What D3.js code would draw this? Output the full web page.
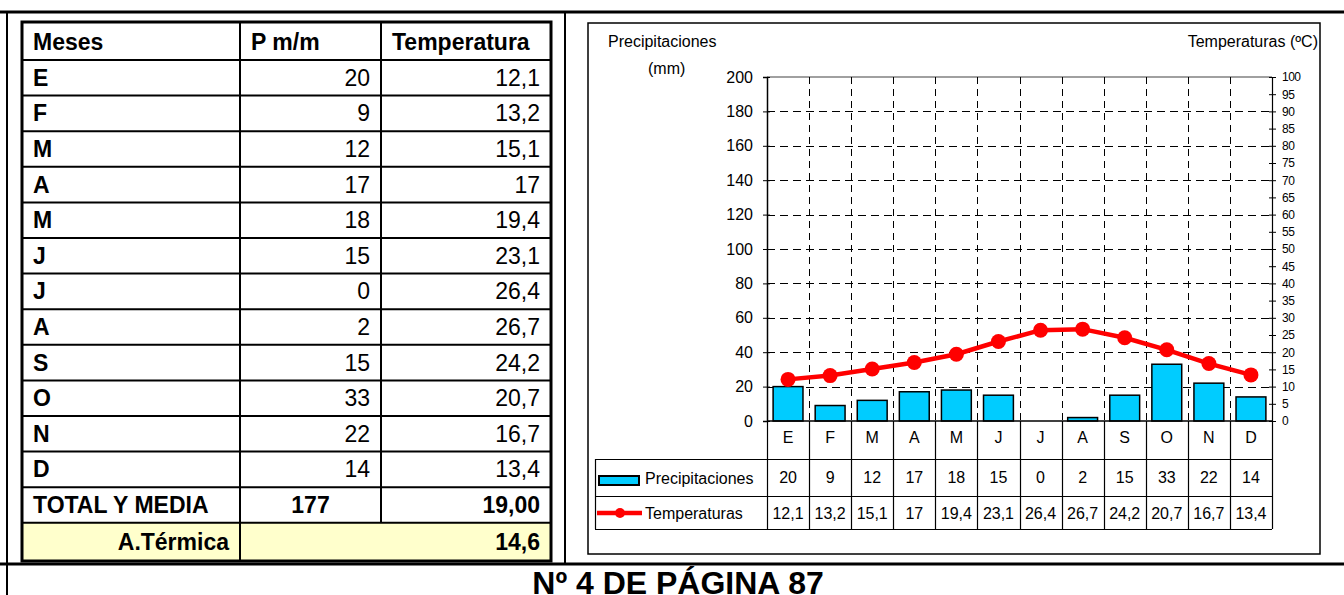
<!DOCTYPE html>
<html>
<head>
<meta charset="utf-8">
<script src="https://cdn.jsdelivr.net/npm/d3@7"></script>
<style>
  body { margin: 0; background: #fff; }
  svg { display: block; font-family: "Liberation Sans", Arial, sans-serif; }
</style>
</head>
<body>
<div id="chart"></div>
<script>
// data
var meses = ["E", "F", "M", "A", "M", "J", "J", "A", "S", "O", "N", "D"];
var precip = [20, 9, 12, 17, 18, 15, 0, 2, 15, 33, 22, 14];
var temp = [12.1, 13.2, 15.1, 17, 19.4, 23.1, 26.4, 26.7, 24.2, 20.7, 16.7, 13.4];
var precipTicks = [0, 20, 40, 60, 80, 100, 120, 140, 160, 180, 200];
var tempTicks = [0, 5, 10, 15, 20, 25, 30, 35, 40, 45, 50, 55, 60, 65, 70, 75, 80, 85, 90, 95, 100];
var headers = ["Meses", "P m/m", "Temperatura"];

var coma = function(v) { return String(v).replace(".", ","); };
var total = d3.sum(precip);
var media = d3.mean(temp).toFixed(2).replace(".", ",");
var amplitud = coma(+(d3.max(temp) - d3.min(temp)).toFixed(1));

var svg = d3.select("#chart").append("svg")
  .attr("width", 1344)
  .attr("height", 595);

// page frame
function line(x1, y1, x2, y2, w, col) {
  return svg.append("line")
    .attr("x1", x1).attr("y1", y1).attr("x2", x2).attr("y2", y2)
    .attr("stroke", col || "#000").attr("stroke-width", w);
}
line(0, 12, 1344, 12, 3);
line(7, 12, 7, 595, 2);
line(565, 12, 565, 564, 2);
line(0, 564, 1344, 564, 3);

svg.append("text")
  .attr("x", 678).attr("y", 594)
  .attr("text-anchor", "middle")
  .style("font-size", "32px").style("font-weight", "bold")
  .text("Nº 4 DE PÁGINA 87");

// ---------- left table ----------
var cols = [22, 240, 381, 551];
var tTop = 22, headH = 38, rowH = 35.6;
var rowsY = [tTop, tTop + headH];
for (var i = 1; i <= 13; i++) rowsY.push(tTop + headH + i * rowH);
rowsY.push(561);

var tabla = svg.append("g");

tabla.append("rect")
  .attr("x", cols[0]).attr("y", rowsY[14])
  .attr("width", cols[3] - cols[0]).attr("height", rowsY[15] - rowsY[14])
  .attr("fill", "#ffffcc");

tabla.selectAll(".hl")
  .data(rowsY.slice(1, 15))
  .enter().append("line")
  .attr("x1", cols[0]).attr("x2", cols[3])
  .attr("y1", function(d) { return d; }).attr("y2", function(d) { return d; })
  .attr("stroke", "#000").attr("stroke-width", 2);

tabla.append("line").attr("x1", cols[1]).attr("x2", cols[1])
  .attr("y1", tTop).attr("y2", rowsY[15]).attr("stroke", "#000").attr("stroke-width", 2);
tabla.append("line").attr("x1", cols[2]).attr("x2", cols[2])
  .attr("y1", tTop).attr("y2", rowsY[14]).attr("stroke", "#000").attr("stroke-width", 2);

tabla.append("rect")
  .attr("x", cols[0]).attr("y", tTop)
  .attr("width", cols[3] - cols[0]).attr("height", rowsY[15] - tTop)
  .attr("fill", "none").attr("stroke", "#000").attr("stroke-width", 3);

var fs = "23px";
tabla.selectAll(".head")
  .data(headers)
  .enter().append("text")
  .attr("x", function(d, i) { return cols[i] + 11; })
  .attr("y", (rowsY[0] + rowsY[1]) / 2 + 8.5)
  .style("font-size", fs).style("font-weight", "bold")
  .text(function(d) { return d; });

var filas = meses.map(function(m, i) { return [m, precip[i], coma(temp[i])]; });
filas.push(["TOTAL Y MEDIA", total, media]);

var fila = tabla.selectAll(".fila")
  .data(filas)
  .enter().append("g")
  .attr("transform", function(d, i) { return "translate(0," + ((rowsY[i + 1] + rowsY[i + 2]) / 2 + 8) + ")"; });

fila.append("text")
  .attr("x", cols[0] + 11)
  .style("font-size", fs).style("font-weight", "bold")
  .text(function(d) { return d[0]; });
fila.append("text")
  .attr("x", function(d, i) { return i == 12 ? (cols[1] + cols[2]) / 2 : cols[2] - 11; })
  .attr("text-anchor", function(d, i) { return i == 12 ? "middle" : "end"; })
  .style("font-size", fs)
  .style("font-weight", function(d, i) { return i == 12 ? "bold" : "normal"; })
  .text(function(d) { return d[1]; });
fila.append("text")
  .attr("x", cols[3] - 11)
  .attr("text-anchor", "end")
  .style("font-size", fs)
  .style("font-weight", function(d, i) { return i == 12 ? "bold" : "normal"; })
  .text(function(d) { return d[2]; });

var yA = (rowsY[14] + rowsY[15]) / 2 + 8;
tabla.append("text").attr("x", cols[1] - 11).attr("y", yA)
  .attr("text-anchor", "end").style("font-size", fs).style("font-weight", "bold")
  .text("A.Térmica");
tabla.append("text").attr("x", cols[3] - 11).attr("y", yA)
  .attr("text-anchor", "end").style("font-size", fs).style("font-weight", "bold")
  .text(amplitud);

// ---------- climograma ----------
var plot = {left: 767, right: 1272, top: 77, bottom: 421};
var legendLeft = 595, rowA = 459, rowB = 496, rowC = 529;

svg.append("rect")
  .attr("x", 588).attr("y", 23).attr("width", 732).attr("height", 531)
  .attr("fill", "none").attr("stroke", "#000").attr("stroke-width", 1.5);

var chartFont = "16px";
svg.append("text").attr("x", 608).attr("y", 47).style("font-size", chartFont).text("Precipitaciones");
svg.append("text").attr("x", 648).attr("y", 74).style("font-size", chartFont).text("(mm)");
svg.append("text").attr("x", 1318).attr("y", 47).attr("text-anchor", "end")
  .style("font-size", chartFont).text("Temperaturas (ºC)");

var xCol = d3.scaleBand().domain(d3.range(12)).range([plot.left, plot.right]);
var x = d3.scaleBand().domain(d3.range(12)).range([plot.left, plot.right])
  .paddingInner(0.29).paddingOuter(0.145);
var y = d3.scaleLinear().domain([0, 200]).range([plot.bottom, plot.top]);
var yT = d3.scaleLinear().domain([0, 100]).range([plot.bottom, plot.top]);

// grid
svg.selectAll(".gh")
  .data(precipTicks.filter(function(d) { return d > 0 && d < 200; }))
  .enter().append("line")
  .attr("x1", plot.left).attr("x2", plot.right)
  .attr("y1", function(d) { return Math.round(y(d)) + 0.5; })
  .attr("y2", function(d) { return Math.round(y(d)) + 0.5; })
  .attr("stroke", "#000").attr("stroke-width", 1).attr("stroke-dasharray", "8,5");
svg.append("line")
  .attr("x1", plot.left).attr("x2", plot.right)
  .attr("y1", y(200)).attr("y2", y(200))
  .attr("stroke", "#808080").attr("stroke-width", 1.5);

var bounds = d3.range(1, 12).map(function(i) { return xCol(i); });
svg.selectAll(".gv")
  .data(bounds)
  .enter().append("line")
  .attr("x1", function(d) { return Math.round(d) + 0.5; })
  .attr("x2", function(d) { return Math.round(d) + 0.5; })
  .attr("y1", plot.top).attr("y2", plot.bottom)
  .attr("stroke", "#000").attr("stroke-width", 1).attr("stroke-dasharray", "7,5");

// data table under the chart
svg.selectAll(".tv")
  .data(bounds.concat([plot.left, plot.right]))
  .enter().append("line")
  .attr("x1", function(d) { return Math.round(d) + 0.5; })
  .attr("x2", function(d) { return Math.round(d) + 0.5; })
  .attr("y1", plot.bottom).attr("y2", rowC)
  .attr("stroke", "#000").attr("stroke-width", 1.2);
svg.selectAll(".th")
  .data([rowA, rowB, rowC])
  .enter().append("line")
  .attr("x1", legendLeft).attr("x2", plot.right)
  .attr("y1", function(d) { return d + 0.5; }).attr("y2", function(d) { return d + 0.5; })
  .attr("stroke", "#000").attr("stroke-width", 1.2);
line(legendLeft + 0.5, rowA, legendLeft + 0.5, rowC, 1.2);

svg.selectAll(".mes")
  .data(meses)
  .enter().append("text")
  .attr("x", function(d, i) { return xCol(i) + xCol.bandwidth() / 2; })
  .attr("y", 443)
  .attr("text-anchor", "middle").style("font-size", chartFont)
  .text(function(d) { return d; });
svg.selectAll(".vp")
  .data(precip)
  .enter().append("text")
  .attr("x", function(d, i) { return xCol(i) + xCol.bandwidth() / 2; })
  .attr("y", 483)
  .attr("text-anchor", "middle").style("font-size", chartFont)
  .text(function(d) { return d; });
svg.selectAll(".vt")
  .data(temp)
  .enter().append("text")
  .attr("x", function(d, i) { return xCol(i) + xCol.bandwidth() / 2; })
  .attr("y", 519)
  .attr("text-anchor", "middle").style("font-size", chartFont)
  .text(function(d) { return coma(d); });

// legend
svg.append("rect").attr("x", 599).attr("y", 476).attr("width", 40).attr("height", 9)
  .attr("fill", "#00ccff").attr("stroke", "#000").attr("stroke-width", 2);
svg.append("text").attr("x", 645).attr("y", 484).style("font-size", chartFont).text("Precipitaciones");
line(597, 513, 642, 513, 4.5, "#ff0000");
svg.append("circle").attr("cx", 620).attr("cy", 513).attr("r", 5).attr("fill", "#ff0000");
svg.append("text").attr("x", 645).attr("y", 519).style("font-size", chartFont).text("Temperaturas");

// bars
svg.selectAll(".bar")
  .data(precip)
  .enter().append("rect")
  .attr("x", function(d, i) { return x(i); })
  .attr("y", function(d) { return y(d); })
  .attr("width", x.bandwidth())
  .attr("height", function(d) { return y(0) - y(d); })
  .attr("fill", "#00ccff")
  .attr("stroke", function(d) { return d > 0 ? "#000" : "none"; })
  .attr("stroke-width", 1.5);

// axes
var axisL = svg.append("g")
  .attr("transform", "translate(" + plot.left + ",0)")
  .call(d3.axisLeft(y).tickValues(precipTicks).tickSize(4).tickPadding(10));
axisL.select(".domain").attr("stroke-width", 1.5);
axisL.selectAll(".tick line").attr("x2", 3).attr("x1", -4);
axisL.selectAll("text").style("font-size", chartFont).style("font-family", "Liberation Sans, Arial, sans-serif");

var axisR = svg.append("g")
  .attr("transform", "translate(" + plot.right + ",0)")
  .call(d3.axisRight(yT).tickValues(tempTicks).tickSize(4).tickPadding(6));
axisR.select(".domain").attr("stroke-width", 1.2);
axisR.selectAll(".tick line").attr("x1", -3);
axisR.selectAll("text").style("font-size", "12px").style("letter-spacing", "-0.5px")
  .style("font-family", "Liberation Sans, Arial, sans-serif");

svg.append("line")
  .attr("x1", plot.left).attr("x2", plot.right)
  .attr("y1", y(0)).attr("y2", y(0))
  .attr("stroke", "#000").attr("stroke-width", 1.5);

// temperature line
var linea = d3.line()
  .x(function(d, i) { return xCol(i) + xCol.bandwidth() / 2; })
  .y(function(d) { return yT(d); });
svg.append("path")
  .datum(temp)
  .attr("d", linea)
  .attr("fill", "none").attr("stroke", "#ff0000").attr("stroke-width", 4.5);
svg.selectAll(".pt")
  .data(temp)
  .enter().append("circle")
  .attr("cx", function(d, i) { return xCol(i) + xCol.bandwidth() / 2; })
  .attr("cy", function(d) { return yT(d); })
  .attr("r", 7.5)
  .attr("fill", "#ff0000");
</script>
</body>
</html>
